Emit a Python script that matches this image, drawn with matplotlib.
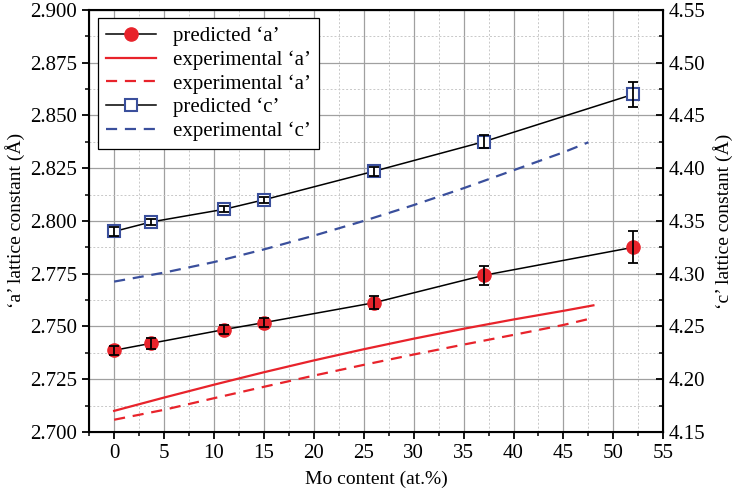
import matplotlib.pyplot as plt
from matplotlib.ticker import MultipleLocator, FormatStrFormatter

# datos
mo_pred = [0, 3.7, 11, 15, 26, 37, 52]
a_pred = [2.7387, 2.7420, 2.7485, 2.7518, 2.7612, 2.7742, 2.7875]
a_err = [0.0020, 0.0025, 0.0022, 0.0020, 0.0030, 0.0045, 0.0075]
c_pred = [4.340, 4.349, 4.361, 4.370, 4.397, 4.425, 4.470]
c_err = [0.004, 0.003, 0.003, 0.003, 0.004, 0.006, 0.012]

mo_exp_a = [0, 5, 10, 15, 20, 25, 30, 35, 40, 45, 48]
a_exp_solid = [2.7100, 2.7163, 2.7224, 2.7283, 2.7339, 2.7392, 2.7442, 2.7489, 2.7533, 2.7574, 2.7600]
mo_exp_a2 = [0, 5, 10, 15, 20, 25, 30, 35, 40, 45, 47.5]
a_exp_dash = [2.7058, 2.7105, 2.7160, 2.7214, 2.7267, 2.7318, 2.7367, 2.7414, 2.7460, 2.7507, 2.7535]
mo_exp_c = [0, 5, 10, 15, 20, 25, 30, 35, 40, 45, 47.5]
c_exp_dash = [4.2925, 4.301, 4.311, 4.323, 4.336, 4.350, 4.365, 4.381, 4.398, 4.415, 4.4245]

rojo = '#e8232b'
azul = '#3a4f9c'

plt.rcParams['font.family'] = ['Liberation Serif', 'DejaVu Serif']

fig, ax = plt.subplots(figsize=(7.37, 4.92), dpi=100)
fig.subplots_adjust(left=0.121, right=0.9, top=0.98, bottom=0.122)
ax2 = ax.twinx()

ax.plot(mo_pred, a_pred, '-', color='black', lw=1.1, zorder=3)
ax.plot(mo_pred, a_pred, 'o', color=rojo, ms=9.5, zorder=4)
ax.errorbar(mo_pred, a_pred, yerr=a_err, fmt='none', ecolor='black', elinewidth=1.3, capsize=3.5, capthick=1.3, zorder=5)
ax.plot(mo_exp_a, a_exp_solid, '-', color=rojo, lw=1.6, zorder=3)
ax.plot(mo_exp_a2, a_exp_dash, '--', color=rojo, lw=1.6, dashes=(5, 3.5), zorder=3)

ax2.plot(mo_pred, c_pred, '-', color='black', lw=1.1, zorder=3)
ax2.plot(mo_pred, c_pred, 's', mfc='white', mec=azul, mew=1.5, ms=8, zorder=4)
ax2.errorbar(mo_pred, c_pred, yerr=c_err, fmt='none', ecolor='black', elinewidth=1.3, capsize=3.5, capthick=1.3, zorder=5)
ax2.plot(mo_exp_c, c_exp_dash, '--', color=azul, lw=1.6, dashes=(5, 3.5), zorder=3)

ax.set_xlim(-2.5, 55)
ax.set_ylim(2.700, 2.900)
ax2.set_ylim(4.15, 4.55)

ax.xaxis.set_major_locator(MultipleLocator(5))
ax.xaxis.set_minor_locator(MultipleLocator(2.5))
ax.yaxis.set_major_locator(MultipleLocator(0.025))
ax.yaxis.set_minor_locator(MultipleLocator(0.0125))
ax.yaxis.set_major_formatter(FormatStrFormatter('%.3f'))
ax2.yaxis.set_major_locator(MultipleLocator(0.05))
ax2.yaxis.set_minor_locator(MultipleLocator(0.025))
ax2.yaxis.set_major_formatter(FormatStrFormatter('%.2f'))

ax.grid(which='major', color='#a0a0a0', lw=0.9, ls='-')
ax.grid(which='minor', color='#c8c8c8', lw=0.7, ls=(0, (2, 2)))
ax.set_axisbelow(True)

ax.tick_params(axis='both', which='major', labelsize=15, length=5, width=1.3, direction='out')
ax.tick_params(axis='both', which='minor', length=3, width=1.1, direction='out')
ax2.tick_params(axis='y', which='major', labelsize=15, length=5, width=1.3, direction='in')
ax2.tick_params(axis='y', which='minor', length=3, width=1.1, direction='in')
for sp in ax2.spines.values():
    sp.set_linewidth(1.5)

ax.set_xlabel('Mo content (at.%)', fontsize=14, labelpad=6)
ax.set_ylabel('‘a’ lattice constant (Å)', fontsize=14, labelpad=4)
ax2.set_ylabel('‘c’ lattice constant (Å)', fontsize=14, labelpad=6)

# leyenda con las lineas de ambos ejes
h1 = ax.plot([], [], '-o', color='black', mfc=rojo, mec=rojo, ms=9.5, lw=1.1)[0]
h2 = ax.plot([], [], '-', color=rojo, lw=1.6)[0]
h3 = ax.plot([], [], '--', color=rojo, lw=1.6, dashes=(5, 3.5))[0]
h4 = ax.plot([], [], '-s', color='black', mfc='white', mec=azul, mew=1.5, ms=8, lw=1.1)[0]
h5 = ax.plot([], [], '--', color=azul, lw=1.6, dashes=(5, 3.5))[0]
leg = ax2.legend([h1, h2, h3, h4, h5],
                 ['predicted ‘a’', 'experimental ‘a’', 'experimental ‘a’', 'predicted ‘c’', 'experimental ‘c’'],
                 loc='upper left', fontsize=15, fancybox=False, framealpha=1, edgecolor='black',
                 handlelength=2.4, borderaxespad=0.4, labelspacing=0.2)
leg.get_frame().set_linewidth(0.9)

fig.savefig('out.png', dpi=100)
